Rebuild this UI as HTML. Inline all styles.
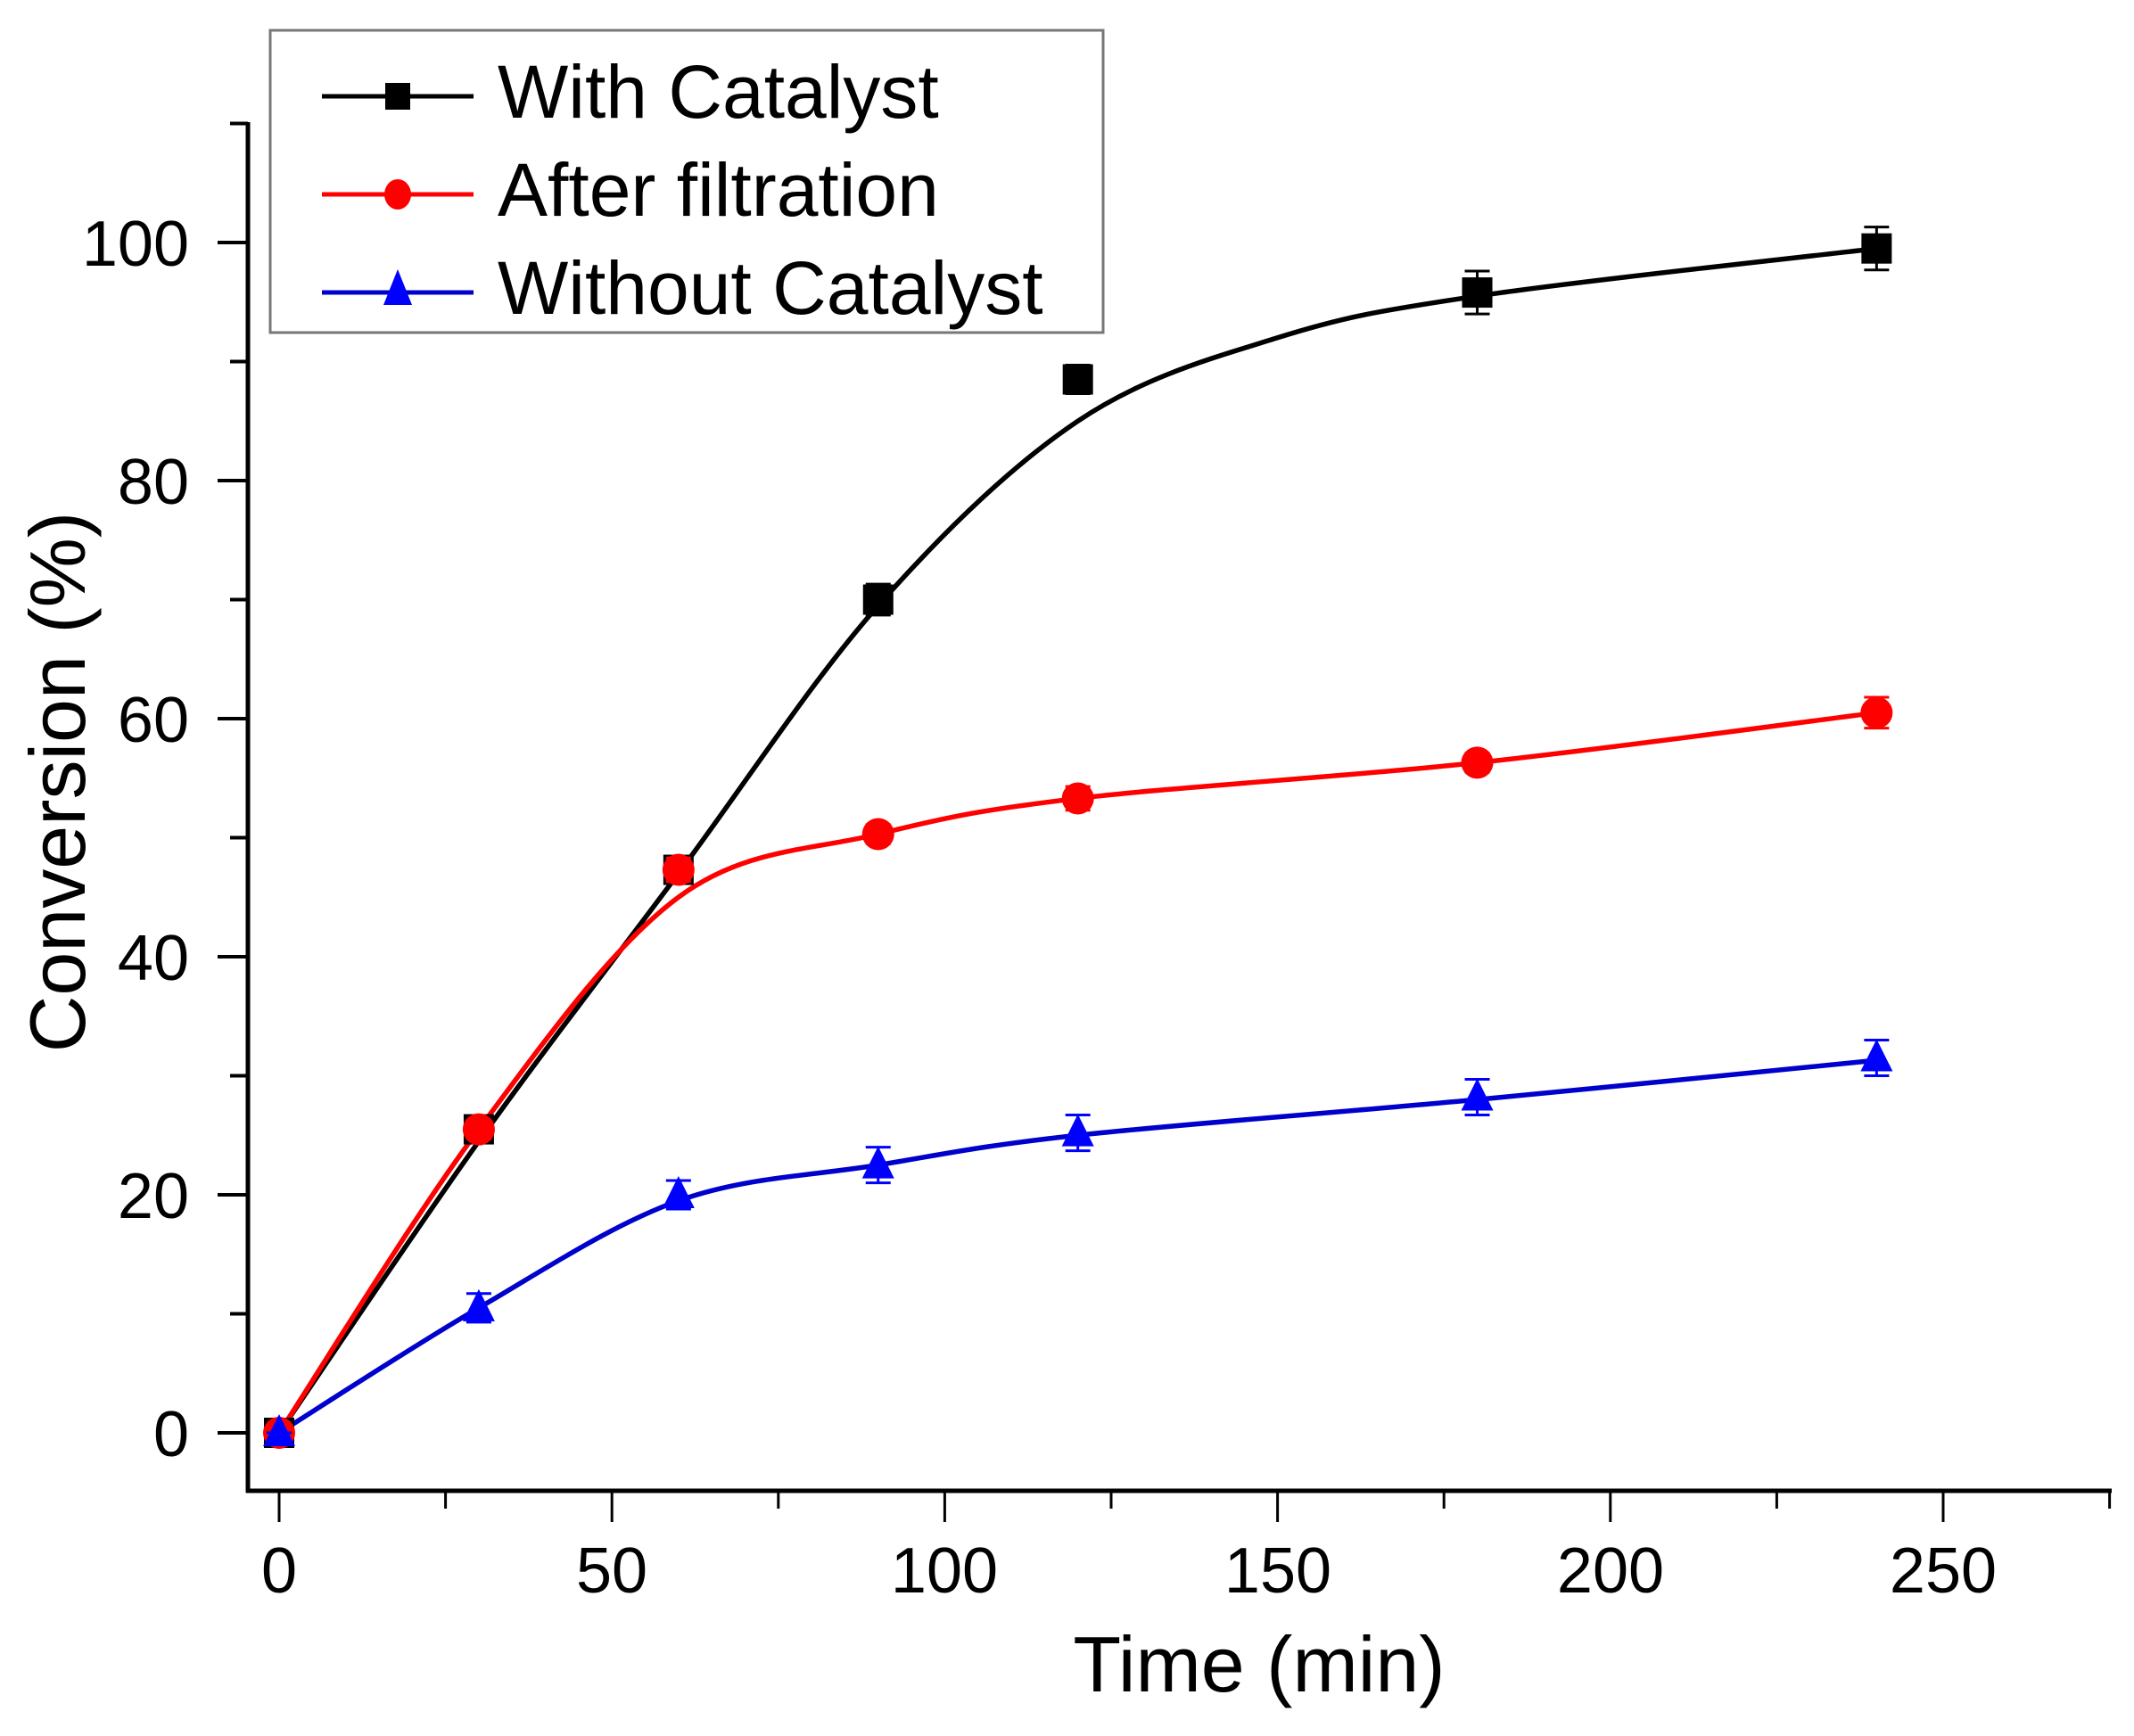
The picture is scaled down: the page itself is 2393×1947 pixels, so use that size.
<!DOCTYPE html>
<html><head><meta charset="utf-8"><style>
html,body{margin:0;padding:0;background:#fff;}
svg{display:block;}
text{font-family:"Liberation Sans",Arial,sans-serif;fill:#000;}
</style></head><body>
<svg id="s" width="2393" height="1947" viewBox="0 0 2393 1947" xmlns="http://www.w3.org/2000/svg">
<rect width="2393" height="1947" fill="#fff"/>
<g id="axes" stroke="#000" stroke-width="5" fill="none">
<line x1="278" y1="137" x2="278" y2="1674"/>
<line x1="276" y1="1672" x2="2368" y2="1672"/>
</g>
<g id="ticks" stroke="#000" stroke-width="3"></g>
<g font-size="72" text-anchor="end">
<text x="212" y="1633">0</text>
<text x="212" y="1366">20</text>
<text x="212" y="1099">40</text>
<text x="212" y="832">60</text>
<text x="212" y="565">80</text>
<text x="212" y="298">100</text>
</g>
<g font-size="72" text-anchor="middle">
<text x="313" y="1786">0</text>
<text x="686" y="1786">50</text>
<text x="1059" y="1786">100</text>
<text x="1433" y="1786">150</text>
<text x="1806" y="1786">200</text>
<text x="2179" y="1786">250</text>
</g>
<text x="1412" y="1897" font-size="88" text-anchor="middle">Time (min)</text>
<text transform="translate(95,877) rotate(-90)" font-size="88" text-anchor="middle">Conversion (%)</text>
<g id="plot"></g>
<rect x="303" y="34" width="934" height="339" fill="#fff" stroke="#777" stroke-width="3"/>
<line x1="361" y1="108" x2="531" y2="108" stroke="#000" stroke-width="5"/>
<rect x="432" y="93" width="28" height="30" fill="#000"/>
<line x1="361" y1="218" x2="531" y2="218" stroke="#f00" stroke-width="5"/>
<ellipse cx="446" cy="218" rx="15" ry="17" fill="#f00"/>
<line x1="361" y1="328" x2="531" y2="328" stroke="#00c" stroke-width="5"/>
<polygon points="446,302 430,342 462,342" fill="#00f"/>
<g font-size="84">
<text x="558" y="132">With Catalyst</text>
<text x="558" y="242">After filtration</text>
<text x="558" y="352">Without Catalyst</text>
</g>
</svg>
<script>
const NS="http://www.w3.org/2000/svg";
const X=t=>313+7.464*t, Y=v=>1607-13.35*v;
const tk=document.getElementById('ticks');
function ln(g,x1,y1,x2,y2,c,w){const l=document.createElementNS(NS,'line');l.setAttribute('x1',x1);l.setAttribute('y1',y1);l.setAttribute('x2',x2);l.setAttribute('y2',y2);l.setAttribute('stroke',c);l.setAttribute('stroke-width',w);g.appendChild(l);}
for(let v=0;v<=110;v+=10){const y=Y(v);ln(tk,v%20==0?244:258,y,278,y,'#000',4);}
for(let t=0;t<=275;t+=25){const x=X(t);ln(tk,x,1672,x,t%50==0?1707:1692,'#000',3);}
const pl=document.getElementById('plot');
function curve(pts,c,w){let P=pts.map(p=>[X(p[0]),Y(p[1])]);let d='M'+P[0][0]+','+P[0][1];
for(let i=0;i<P.length-1;i++){const p0=P[Math.max(0,i-1)],p1=P[i],p2=P[i+1],p3=P[Math.min(P.length-1,i+2)];
const c1=[p1[0]+(p2[0]-p0[0])/6,p1[1]+(p2[1]-p0[1])/6],c2=[p2[0]-(p3[0]-p1[0])/6,p2[1]-(p3[1]-p1[1])/6];
d+=` C${c1[0]},${c1[1]} ${c2[0]},${c2[1]} ${p2[0]},${p2[1]}`;}
const p=document.createElementNS(NS,'path');p.setAttribute('d',d);p.setAttribute('fill','none');p.setAttribute('stroke',c);p.setAttribute('stroke-width',w);pl.appendChild(p);}
curve([[0,0],[30,24.5],[60,47],[90,69.5],[120,85],[150,92],[180,95.5],[240,99.5]],'#000',5.5);
curve([[0,0],[30,25.5],[60,45],[90,50.3],[120,53.3],[180,56.3],[240,60.5]],'#f00',5.5);
curve([[0,0],[30,10.5],[60,19.5],[90,22.5],[120,25],[180,28],[240,31.3]],'#00c',5.5);
function eb(t,v,e,c){const x=X(t);ln(pl,x,Y(v+e),x,Y(v-e),c,3);ln(pl,x-14,Y(v+e),x+14,Y(v+e),c,3);ln(pl,x-14,Y(v-e),x+14,Y(v-e),c,3);}
const blk=[[0,0,0],[30,25.5,0.8],[60,47.3,1],[90,70,1.3],[120,88.5,1.2],[180,95.8,1.8],[240,99.5,1.8]];
const red=[[0,0,0],[30,25.5,0.8],[60,47.3,1],[90,50.3,0.8],[120,53.3,1],[180,56.3,0.8],[240,60.5,1.3]];
const blu=[[0,0,0],[30,10.5,1.2],[60,20,1.2],[90,22.5,1.5],[120,25.2,1.5],[180,28.2,1.5],[240,31.5,1.5]];
blk.forEach(p=>{eb(...p,'#000');const r=document.createElementNS(NS,'rect');r.setAttribute('x',X(p[0])-17);r.setAttribute('y',Y(p[1])-17);r.setAttribute('width',34);r.setAttribute('height',34);r.setAttribute('fill','#000');pl.appendChild(r);});
red.forEach(p=>{eb(...p,'#f00');const r=document.createElementNS(NS,'circle');r.setAttribute('cx',X(p[0]));r.setAttribute('cy',Y(p[1]));r.setAttribute('r',18);r.setAttribute('fill','#f00');pl.appendChild(r);});
blu.forEach(p=>{eb(...p,'#00f');const x=X(p[0]),y=Y(p[1]);const r=document.createElementNS(NS,'polygon');r.setAttribute('points',`${x},${y-21} ${x-18},${y+15} ${x+18},${y+15}`);r.setAttribute('fill','#00f');pl.appendChild(r);});
</script>
</body></html>
